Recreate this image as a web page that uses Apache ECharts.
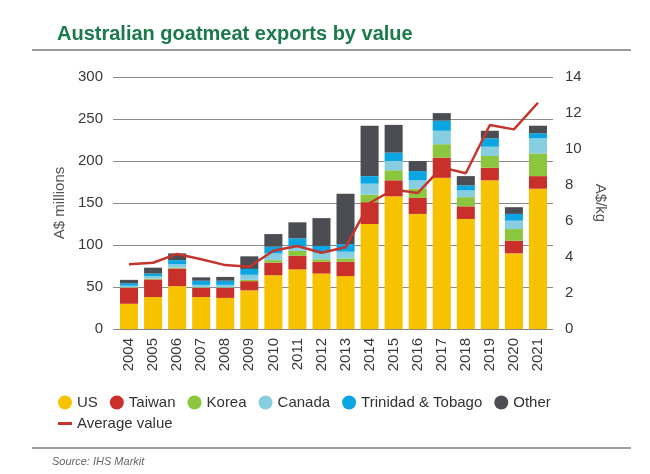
<!DOCTYPE html>
<html>
<head>
<meta charset="utf-8">
<script src="https://cdn.jsdelivr.net/npm/echarts@6/dist/echarts.min.js"></script>
<style>html,body{margin:0;padding:0;background:#fff}#c{width:650px;height:474px}</style>
</head>
<body>
<div id="c"></div>
<script>
const years = ['2004','2005','2006','2007','2008','2009','2010','2011','2012','2013','2014','2015','2016','2017','2018','2019','2020','2021'];
const us      = [30,38,51,38,37,46,64,71,66,63,125,158,137,180,131,177,90,167];
const taiwan  = [19,21,21,11,12,11,15,16,14,17,26,19,19,24,15,15,15,15];
const korea   = [0.5,1,1,0.5,0.5,1.5,3,6,3,4,9,12,11,16,11,14,14,27];
const canada  = [2,3,4,3,3,6,8,5,8,8,13,11,10,16,8,11,10,18];
const trinidad= [3,3,5,5,5,7,8,10,8,9,9,10,11,12,6,10,8,6];
const other   = [4,7,8,4,4.5,15,15,19,33,60,60,33,12,9,11,9,8,9];
const avgValue= [3.6,3.68,4.17,3.87,3.55,3.46,4.35,4.61,4.24,4.54,7.0,7.75,7.55,8.98,8.65,11.33,11.09,12.57];

const FONT = 'Liberation Sans, Arial, sans-serif';
const colors = {US:'#F7C200', Taiwan:'#C9302A', Korea:'#8CC63F', Canada:'#86CEE0', 'Trinidad & Tobago':'#0AA6E4', Other:'#4B4D52'};

function bar(name, data){
  return {name, type:'bar', stack:'t', data, barCategoryGap:'25%', itemStyle:{color:colors[name]}, z:2};
}

const chart = echarts.init(document.getElementById('c'), null, {renderer:'canvas'});
chart.setOption({
  animation:false,
  textStyle:{fontFamily:FONT},
  title:{text:'Australian goatmeat exports by value', left:52, top:19,
    textStyle:{fontFamily:FONT, fontSize:20, fontWeight:'bold', color:'#1B7A4B'}},
  grid:[
    {left:117, right:100, top:77, bottom:145},
    {left:113, right:97, top:77, bottom:145}
  ],
  legend:[
    {left:53, top:390, itemWidth:14, itemHeight:14, itemGap:12, icon:'circle',
     data:['US','Taiwan','Korea','Canada','Trinidad & Tobago','Other'],
     textStyle:{fontFamily:FONT, fontSize:15, color:'#333'}},
    {left:53, top:411, itemWidth:14, itemHeight:3, icon:'rect',
     data:['Average value'],
     textStyle:{fontFamily:FONT, fontSize:15, color:'#333'}}
  ],
  xAxis:[
    {type:'category', gridIndex:0, data:years,
     axisLine:{show:false}, axisTick:{show:false},
     axisLabel:{rotate:90, margin:9, fontSize:15, color:'#3a3a3a', fontFamily:FONT}},
    {type:'value', gridIndex:1, show:false, min:0, max:1}
  ],
  yAxis:[
    {type:'value', gridIndex:0, min:0, max:300, interval:50,
     name:'A$ millions', nameLocation:'middle', nameGap:44, nameRotate:90,
     nameTextStyle:{fontSize:15, color:'#555', fontFamily:FONT},
     axisLine:{show:false}, axisTick:{show:false}, splitLine:{show:false},
     axisLabel:{fontSize:15, color:'#3a3a3a', margin:14, fontFamily:FONT}},
    {type:'value', gridIndex:0, position:'right', min:0, max:14, interval:2,
     name:'A$/kg', nameLocation:'middle', nameGap:35, nameRotate:-90,
     nameTextStyle:{fontSize:15, color:'#555', fontFamily:FONT},
     axisLine:{show:false}, axisTick:{show:false}, splitLine:{show:false},
     axisLabel:{fontSize:15, color:'#3a3a3a', margin:15, fontFamily:FONT}},
    {type:'value', gridIndex:1, min:0, max:300, interval:50,
     axisLine:{show:false}, axisTick:{show:false}, axisLabel:{show:false},
     splitLine:{show:true, lineStyle:{color:'#8a8a8a', width:1}}}
  ],
  series:[
    bar('US', us), bar('Taiwan', taiwan), bar('Korea', korea),
    bar('Canada', canada), bar('Trinidad & Tobago', trinidad), bar('Other', other),
    {name:'Average value', type:'line', yAxisIndex:1, data:avgValue, symbol:'none',
     lineStyle:{color:'#C4352E', width:2.5}, itemStyle:{color:'#C4352E'}, z:5}
  ],
  graphic:[
    {type:'line', shape:{x1:32, y1:50, x2:631, y2:50}, style:{stroke:'#7a7a7a', lineWidth:1.5}},
    {type:'line', shape:{x1:32, y1:448, x2:631, y2:448}, style:{stroke:'#7a7a7a', lineWidth:1.5}},
    {type:'text', left:52, top:456, style:{text:'Source: IHS Markit', font:'italic 11px '+FONT, fill:'#666'}}
  ]
});
</script>
</body>
</html>
